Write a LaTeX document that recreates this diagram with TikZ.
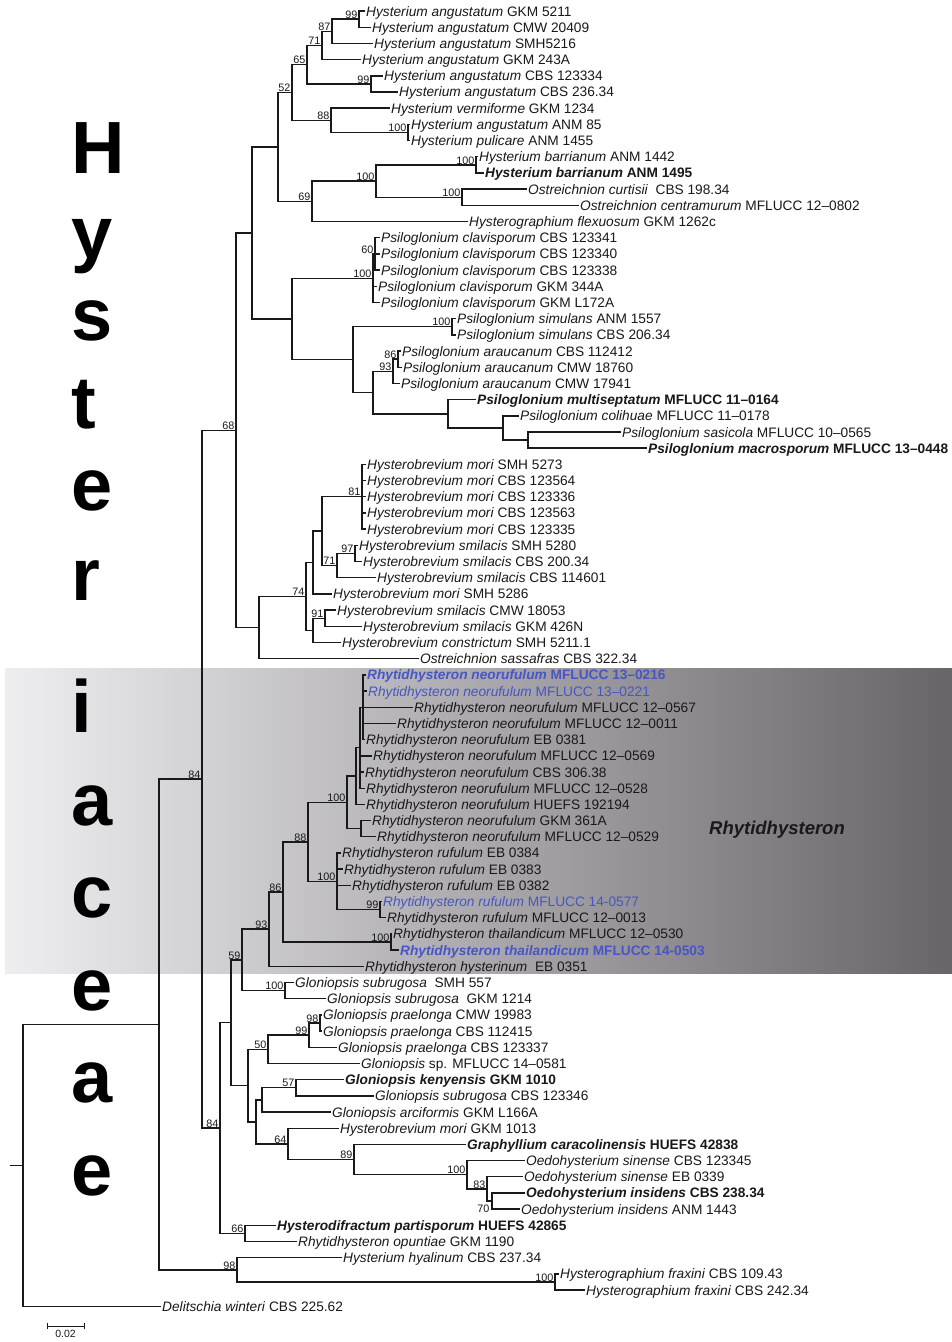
\documentclass[tikz,border=0pt]{standalone}
\usepackage{fontspec}
\setmainfont{Liberation Sans}
\definecolor{bluelab}{RGB}{70,86,196}
\definecolor{shadeL}{RGB}{238,238,240}
\definecolor{shadeM}{RGB}{190,188,193}
\definecolor{shadeR}{RGB}{104,100,106}
\definecolor{ink}{RGB}{25,25,25}
\newcommand{\mkleaf}[4]{\node[leaf] (#1) at ({#2-1},#3) {#4};}
\newcommand{\bsl}[2]{\node[bs] (b#1) at (#1) {#2};}
\begin{document}
\begin{tikzpicture}[x=1pt,y=-1pt,
  br/.style={line width=1.4pt, draw=ink},
  leaf/.style={anchor=west, inner sep=1pt, text height=11.5pt, text depth=1.5pt, text=ink, font=\fontsize{13.7}{15}\selectfont},
  bs/.style={anchor=south east, inner sep=0.5pt, xshift=-1pt, text=ink, font=\fontsize{10.8}{11}\selectfont},
  big/.style={anchor=base west, inner sep=0pt, text=black, font=\fontsize{74}{74}\bfseries\selectfont},
  clade/.style={anchor=center, inner sep=0pt, text=ink, font=\fontsize{18.5}{19}\bfseries\itshape\selectfont}]
\useasboundingbox (0,0) rectangle (952,1342);
\fill[white] (0,0) rectangle (952,1342);
% shaded clade box
\shade[left color=shadeL, middle color=shadeM, right color=shadeR] (5,668) rectangle (952,973);
\node[clade] (rhy) at (777,830) {Rhytidhysteron};
% big family letters
\node[big] (bl1) at (71,173) {H};
\node[big] (bl2) at (71,258) {y};
\node[big] (bl3) at (71,340) {s};
\node[big] (bl4) at (71,428) {t};
\node[big] (bl5) at (71,510) {e};
\node[big] (bl6) at (71,600) {r};
\node[big] (bl7) at (71,732) {i};
\node[big] (bl8) at (71,825) {a};
\node[big] (bl9) at (71,917) {c};
\node[big] (bl10) at (71,1010) {e};
\node[big] (bl11) at (71,1102) {a};
\node[big] (bl12) at (71,1195) {e};
% leaves
\mkleaf{L1}{366}{11.0}{\textit{Hysterium angustatum} GKM 5211}
\mkleaf{L2}{372}{27.2}{\textit{Hysterium angustatum} CMW 20409}
\mkleaf{L3}{374}{43.4}{\textit{Hysterium angustatum} SMH5216}
\mkleaf{L4}{362}{59.6}{\textit{Hysterium angustatum} GKM 243A}
\mkleaf{L5}{384}{75.8}{\textit{Hysterium angustatum} CBS 123334}
\mkleaf{L6}{399}{91.9}{\textit{Hysterium angustatum} CBS 236.34}
\mkleaf{L7}{391}{108.1}{\textit{Hysterium vermiforme} GKM 1234}
\mkleaf{L8}{411}{124.3}{\textit{Hysterium angustatum} ANM 85}
\mkleaf{L9}{411}{140.5}{\textit{Hysterium pulicare} ANM 1455}
\mkleaf{L10}{479}{156.7}{\textit{Hysterium barrianum} ANM 1442}
\mkleaf{L11}{485}{172.9}{\bfseries\textit{Hysterium barrianum} ANM 1495}
\mkleaf{L12}{528}{189.1}{\textit{Ostreichnion curtisii}\ \ CBS 198.34}
\mkleaf{L13}{580}{205.3}{\textit{Ostreichnion centramurum} MFLUCC 12–0802}
\mkleaf{L14}{469}{221.5}{\textit{Hysterographium flexuosum} GKM 1262c}
\mkleaf{L15}{381}{237.7}{\textit{Psiloglonium clavisporum} CBS 123341}
\mkleaf{L16}{381}{253.9}{\textit{Psiloglonium clavisporum} CBS 123340}
\mkleaf{L17}{381}{270.0}{\textit{Psiloglonium clavisporum} CBS 123338}
\mkleaf{L18}{378}{286.2}{\textit{Psiloglonium clavisporum} GKM 344A}
\mkleaf{L19}{381}{302.4}{\textit{Psiloglonium clavisporum} GKM L172A}
\mkleaf{L20}{457}{318.6}{\textit{Psiloglonium simulans} ANM 1557}
\mkleaf{L21}{457}{334.8}{\textit{Psiloglonium simulans} CBS 206.34}
\mkleaf{L22}{402}{351.0}{\textit{Psiloglonium araucanum} CBS 112412}
\mkleaf{L23}{403}{367.2}{\textit{Psiloglonium araucanum} CMW 18760}
\mkleaf{L24}{401}{383.4}{\textit{Psiloglonium araucanum} CMW 17941}
\mkleaf{L25}{477}{399.6}{\bfseries\textit{Psiloglonium multiseptatum} MFLUCC 11–0164}
\mkleaf{L26}{520}{415.8}{\textit{Psiloglonium colihuae} MFLUCC 11–0178}
\mkleaf{L27}{622}{432.0}{\textit{Psiloglonium sasicola} MFLUCC 10–0565}
\mkleaf{L28}{648}{448.1}{\bfseries\textit{Psiloglonium macrosporum} MFLUCC 13–0448}
\mkleaf{L29}{367}{464.3}{\textit{Hysterobrevium mori} SMH 5273}
\mkleaf{L30}{367}{480.5}{\textit{Hysterobrevium mori} CBS 123564}
\mkleaf{L31}{367}{496.7}{\textit{Hysterobrevium mori} CBS 123336}
\mkleaf{L32}{367}{512.9}{\textit{Hysterobrevium mori} CBS 123563}
\mkleaf{L33}{367}{529.1}{\textit{Hysterobrevium mori} CBS 123335}
\mkleaf{L34}{359}{545.3}{\textit{Hysterobrevium smilacis} SMH 5280}
\mkleaf{L35}{363}{561.5}{\textit{Hysterobrevium smilacis} CBS 200.34}
\mkleaf{L36}{377}{577.7}{\textit{Hysterobrevium smilacis} CBS 114601}
\mkleaf{L37}{333}{593.9}{\textit{Hysterobrevium mori} SMH 5286}
\mkleaf{L38}{337}{610.1}{\textit{Hysterobrevium smilacis} CMW 18053}
\mkleaf{L39}{363}{626.2}{\textit{Hysterobrevium smilacis} GKM 426N}
\mkleaf{L40}{342}{642.4}{\textit{Hysterobrevium constrictum} SMH 5211.1}
\mkleaf{L41}{420}{658.6}{\textit{Ostreichnion sassafras} CBS 322.34}
\mkleaf{L42}{367}{674.8}{\color{bluelab}\bfseries\textit{Rhytidhysteron neorufulum} MFLUCC 13–0216}
\mkleaf{L43}{368}{691.0}{\color{bluelab}\textit{Rhytidhysteron neorufulum} MFLUCC 13–0221}
\mkleaf{L44}{414}{707.2}{\textit{Rhytidhysteron neorufulum} MFLUCC 12–0567}
\mkleaf{L45}{397}{723.4}{\textit{Rhytidhysteron neorufulum} MFLUCC 12–0011}
\mkleaf{L46}{366}{739.6}{\textit{Rhytidhysteron neorufulum} EB 0381}
\mkleaf{L47}{373}{755.8}{\textit{Rhytidhysteron neorufulum} MFLUCC 12–0569}
\mkleaf{L48}{365}{772.0}{\textit{Rhytidhysteron neorufulum} CBS 306.38}
\mkleaf{L49}{366}{788.2}{\textit{Rhytidhysteron neorufulum} MFLUCC 12–0528}
\mkleaf{L50}{366}{804.3}{\textit{Rhytidhysteron neorufulum} HUEFS 192194}
\mkleaf{L51}{372}{820.5}{\textit{Rhytidhysteron neorufulum} GKM 361A}
\mkleaf{L52}{377}{836.7}{\textit{Rhytidhysteron neorufulum} MFLUCC 12–0529}
\mkleaf{L53}{342}{852.9}{\textit{Rhytidhysteron rufulum} EB 0384}
\mkleaf{L54}{344}{869.1}{\textit{Rhytidhysteron rufulum} EB 0383}
\mkleaf{L55}{352}{885.3}{\textit{Rhytidhysteron rufulum} EB 0382}
\mkleaf{L56}{383}{901.5}{\color{bluelab}\textit{Rhytidhysteron rufulum} MFLUCC 14-0577}
\mkleaf{L57}{387}{917.7}{\textit{Rhytidhysteron rufulum} MFLUCC 12–0013}
\mkleaf{L58}{393}{933.9}{\textit{Rhytidhysteron thailandicum} MFLUCC 12–0530}
\mkleaf{L59}{400}{950.1}{\color{bluelab}\bfseries\textit{Rhytidhysteron thailandicum} MFLUCC 14-0503}
\mkleaf{L60}{365}{966.3}{\textit{Rhytidhysteron hysterinum}\ \ EB 0351}
\mkleaf{L61}{295}{982.4}{\textit{Gloniopsis subrugosa}\ \ SMH 557}
\mkleaf{L62}{327}{998.6}{\textit{Gloniopsis subrugosa}\ \ GKM 1214}
\mkleaf{L63}{323}{1014.8}{\textit{Gloniopsis praelonga} CMW 19983}
\mkleaf{L64}{323}{1031.0}{\textit{Gloniopsis praelonga} CBS 112415}
\mkleaf{L65}{338}{1047.2}{\textit{Gloniopsis praelonga} CBS 123337}
\mkleaf{L66}{361}{1063.4}{\textit{Gloniopsis} sp. MFLUCC 14–0581}
\mkleaf{L67}{345}{1079.6}{\bfseries\textit{Gloniopsis kenyensis} GKM 1010}
\mkleaf{L68}{375}{1095.8}{\textit{Gloniopsis subrugosa} CBS 123346}
\mkleaf{L69}{332}{1112.0}{\textit{Gloniopsis arciformis} GKM L166A}
\mkleaf{L70}{340}{1128.2}{\textit{Hysterobrevium mori} GKM 1013}
\mkleaf{L71}{467}{1144.4}{\bfseries\textit{Graphyllium caracolinensis} HUEFS 42838}
\mkleaf{L72}{526}{1160.5}{\textit{Oedohysterium sinense} CBS 123345}
\mkleaf{L73}{524}{1176.7}{\textit{Oedohysterium sinense} EB 0339}
\mkleaf{L74}{526}{1192.9}{\bfseries\textit{Oedohysterium insidens} CBS 238.34}
\mkleaf{L75}{521}{1209.1}{\textit{Oedohysterium insidens} ANM 1443}
\mkleaf{L76}{277}{1225.3}{\bfseries\textit{Hysterodifractum partisporum} HUEFS 42865}
\mkleaf{L77}{298}{1241.5}{\textit{Rhytidhysteron opuntiae} GKM 1190}
\mkleaf{L78}{343}{1257.7}{\textit{Hysterium hyalinum} CBS 237.34}
\mkleaf{L79}{560}{1273.9}{\textit{Hysterographium fraxini} CBS 109.43}
\mkleaf{L80}{586}{1290.1}{\textit{Hysterographium fraxini} CBS 242.34}
\mkleaf{L81}{162}{1306.3}{\textit{Delitschia winteri} CBS 225.62}
% internal nodes
\coordinate (n99a) at (359,19.1);
\coordinate (n87) at (332,31.3);
\coordinate (n71) at (322,45.4);
\coordinate (n99b) at (371,83.9);
\coordinate (n65) at (307,64.6);
\coordinate (n100a) at (408,132.4);
\coordinate (n88) at (331,120.3);
\coordinate (n52) at (292,92.5);
\coordinate (n100c) at (476,164.8);
\coordinate (n100d) at (462,197.2);
\coordinate (n100b) at (376,181.0);
\coordinate (n69) at (312,201.3);
\coordinate (nHy) at (278,146.9);
\coordinate (n60) at (375,253.9);
\coordinate (n100e) at (373,278.2);
\coordinate (n100f) at (452,326.7);
\coordinate (n86b) at (398,359.1);
\coordinate (n93b) at (393,371.3);
\coordinate (nU) at (528,440.1);
\coordinate (nT) at (503,428.0);
\coordinate (nS) at (448,413.8);
\coordinate (nR) at (373,392.5);
\coordinate (nQ) at (353,359.6);
\coordinate (nPs) at (292,318.9);
\coordinate (nY) at (252,232.9);
\coordinate (n81) at (362,496.7);
\coordinate (n97) at (355,553.4);
\coordinate (n71b) at (337,565.6);
\coordinate (nW2) at (322,531.1);
\coordinate (nV) at (313,562.5);
\coordinate (n91) at (325,618.2);
\coordinate (nX) at (313,630.3);
\coordinate (n74) at (306,596.4);
\coordinate (nHB) at (259,627.5);
\coordinate (nZ) at (236,430.2);
\coordinate (nA) at (363,707.2);
\coordinate (nB) at (360,747.7);
\coordinate (nC) at (356,776.0);
\coordinate (nGK) at (361,828.6);
\coordinate (n100i) at (347,802.3);
\coordinate (n99k) at (380,909.6);
\coordinate (n100j) at (337,881.3);
\coordinate (n88b) at (308,841.8);
\coordinate (n100h) at (391,942.0);
\coordinate (n86) at (283,891.9);
\coordinate (n93) at (269,929.1);
\coordinate (n100g) at (285,990.5);
\coordinate (n59) at (242,959.8);
\coordinate (n98) at (320,1022.9);
\coordinate (n99c) at (309,1035.1);
\coordinate (n50) at (268,1049.2);
\coordinate (n57) at (296,1087.7);
\coordinate (nK) at (262,1099.9);
\coordinate (n70) at (492,1201.0);
\coordinate (n83) at (487,1188.9);
\coordinate (n100m) at (467,1174.7);
\coordinate (n89) at (354,1159.5);
\coordinate (n64) at (288,1143.9);
\coordinate (nL) at (256,1121.9);
\coordinate (nG2) at (248,1085.6);
\coordinate (nG1) at (231,1022.7);
\coordinate (n66) at (245,1233.4);
\coordinate (n84b) at (220,1128.0);
\coordinate (n84a) at (202,779.1);
\coordinate (n100n) at (555,1282.0);
\coordinate (n98b) at (237,1269.9);
\coordinate (nR1) at (159,1024.5);
\coordinate (root) at (23,1165.4);
\coordinate (rootstub) at (10,1165.4);
% branches
\draw[br] (n99a) |- (L1.west) (n99a) |- (L2.west)
  (n87) |- (n99a) (n87) |- (L3.west)
  (n71) |- (n87) (n71) |- (L4.west)
  (n99b) |- (L5.west) (n99b) |- (L6.west)
  (n65) |- (n71) (n65) |- (n99b)
  (n100a) |- (L8.west) (n100a) |- (L9.west)
  (n88) |- (L7.west) (n88) |- (n100a)
  (n52) |- (n65) (n52) |- (n88)
  (n100c) |- (L10.west) (n100c) |- (L11.west)
  (n100d) |- (L12.west) (n100d) |- (L13.west)
  (n100b) |- (n100c) (n100b) |- (n100d)
  (n69) |- (n100b) (n69) |- (L14.west)
  (nHy) |- (n52) (nHy) |- (n69);
\draw[br] (n60) |- (L15.west) (n60) |- (L16.west) (n60) |- (L17.west)
  (n100e) |- (n60) (n100e) |- (L18.west) (n100e) |- (L19.west)
  (n100f) |- (L20.west) (n100f) |- (L21.west)
  (n86b) |- (L22.west) (n86b) |- (L23.west)
  (n93b) |- (n86b) (n93b) |- (L24.west)
  (nU) |- (L27.west) (nU) |- (L28.west)
  (nT) |- (L26.west) (nT) |- (nU)
  (nS) |- (L25.west) (nS) |- (nT)
  (nR) |- (n93b) (nR) |- (nS)
  (nQ) |- (n100f) (nQ) |- (nR)
  (nPs) |- (n100e) (nPs) |- (nQ)
  (nY) |- (nHy) (nY) |- (nPs);
\draw[br] (n81) |- (L29.west) (n81) |- (L30.west) (n81) |- (L31.west) (n81) |- (L32.west) (n81) |- (L33.west)
  (n97) |- (L34.west) (n97) |- (L35.west)
  (n71b) |- (n97) (n71b) |- (L36.west)
  (nW2) |- (n81) (nW2) |- (n71b)
  (nV) |- (nW2) (nV) |- (L37.west)
  (n91) |- (L38.west) (n91) |- (L39.west)
  (nX) |- (n91) (nX) |- (L40.west)
  (n74) |- (nV) (n74) |- (nX)
  (nHB) |- (n74) (nHB) |- (L41.west)
  (nZ) |- (nY) (nZ) |- (nHB);
\draw[br] (nA) |- (L42.west) (nA) |- (L43.west) (nA) |- (L44.west) (nA) |- (L45.west) (nA) |- (L46.west)
  (nB) |- (nA) (nB) |- (L47.west) (nB) |- (L48.west) (nB) |- (L49.west)
  (nC) |- (nB) (nC) |- (L50.west)
  (nGK) |- (L51.west) (nGK) |- (L52.west)
  (n100i) |- (nC) (n100i) |- (nGK)
  (n99k) |- (L56.west) (n99k) |- (L57.west)
  (n100j) |- (L53.west) (n100j) |- (L54.west) (n100j) |- (L55.west) (n100j) |- (n99k)
  (n88b) |- (n100i) (n88b) |- (n100j)
  (n100h) |- (L58.west) (n100h) |- (L59.west)
  (n86) |- (n88b) (n86) |- (n100h)
  (n93) |- (n86) (n93) |- (L60.west)
  (n100g) |- (L61.west) (n100g) |- (L62.west)
  (n59) |- (n93) (n59) |- (n100g);
\draw[br] (n98) |- (L63.west) (n98) |- (L64.west)
  (n99c) |- (n98) (n99c) |- (L65.west)
  (n50) |- (n99c) (n50) |- (L66.west)
  (n57) |- (L67.west) (n57) |- (L68.west)
  (nK) |- (n57) (nK) |- (L69.west)
  (n70) |- (L74.west) (n70) |- (L75.west)
  (n83) |- (L73.west) (n83) |- (n70)
  (n100m) |- (L72.west) (n100m) |- (n83)
  (n89) |- (L71.west) (n89) |- (n100m)
  (n64) |- (L70.west) (n64) |- (n89)
  (nL) |- (nK) (nL) |- (n64)
  (nG2) |- (n50) (nG2) |- (nL)
  (nG1) |- (n59) (nG1) |- (nG2)
  (n66) |- (L76.west) (n66) |- (L77.west)
  (n84b) |- (nG1) (n84b) |- (n66)
  (n84a) |- (nZ) (n84a) |- (n84b)
  (n100n) |- (L79.west) (n100n) |- (L80.west)
  (n98b) |- (L78.west) (n98b) |- (n100n)
  (nR1) |- (n84a) (nR1) |- (n98b)
  (root) |- (nR1) (root) |- (L81.west)
  (rootstub) -- (root);
% bootstrap values
\bsl{n99a}{99} \bsl{n87}{87} \bsl{n71}{71} \bsl{n65}{65} \bsl{n99b}{99}
\bsl{n52}{52} \bsl{n88}{88} \bsl{n100a}{100} \bsl{n100c}{100} \bsl{n100b}{100}
\bsl{n100d}{100} \bsl{n69}{69}
\bsl{n60}{60} \bsl{n100e}{100} \bsl{n100f}{100} \bsl{n86b}{86} \bsl{n93b}{93}
\bsl{nZ}{68}
\bsl{n81}{81} \bsl{n97}{97} \bsl{n71b}{71} \bsl{n74}{74} \bsl{n91}{91}
\bsl{n100i}{100} \bsl{n88b}{88} \bsl{n100j}{100} \bsl{n99k}{99} \bsl{n86}{86}
\bsl{n100h}{100} \bsl{n93}{93} \bsl{n59}{59} \bsl{n100g}{100}
\bsl{n84a}{84}
\bsl{n98}{98} \bsl{n99c}{99} \bsl{n50}{50} \bsl{n57}{57} \bsl{n64}{64}
\bsl{n89}{89} \bsl{n100m}{100} \bsl{n83}{83}
\node[anchor=east, inner sep=0.5pt, text=ink, font=\fontsize{10.8}{11}\selectfont] (bn70) at (490,1209.1) {70};
\bsl{n84b}{84} \bsl{n66}{66} \bsl{n98b}{98} \bsl{n100n}{100}
% scale bar
\coordinate (sb1) at (47,1326);
\coordinate (sb2) at (84,1326);
\draw[line width=1pt, draw=ink] (sb1) -- (sb2)
  ([yshift=-3pt]sb1) -- ([yshift=3pt]sb1) ([yshift=-3pt]sb2) -- ([yshift=3pt]sb2);
\node[anchor=north, inner sep=1pt, text=ink, font=\fontsize{10.5}{11}\selectfont] (sblab) at (65.5,1329) {0.02};
\end{tikzpicture}
\end{document}
